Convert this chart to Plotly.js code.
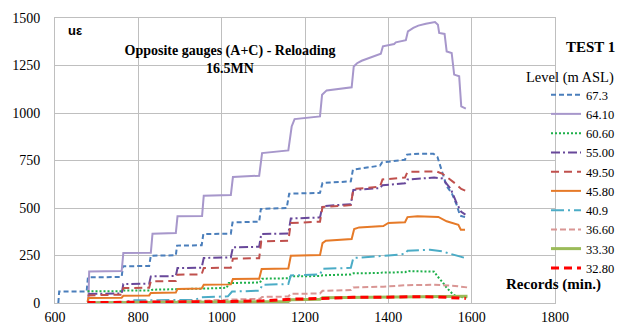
<!DOCTYPE html>
<html>
<head>
<meta charset="utf-8">
<script src="https://cdn.plot.ly/plotly-3.0.1.min.js"></script>
<style>html,body{margin:0;padding:0;background:#fff;}#chart{width:619px;height:326px;}</style>
</head>
<body>
<div id="chart"></div>
<script>
// ---- data ----
const seriesNames = ["67.3","64.10","60.60","55.00","49.50","45.80","40.9","36.60","33.30","32.80"];

const t_673 = [608,610,676,679,760,763,826,830,890,893,952,956,1022,1026,1090,1094,1156,1162,1236,1242,1310,1315,1380,1385,1440,1445,1475,1508,1518,1524,1540,1552,1564,1572,1584];
const v_673 = [0,61,61,135,137,193,195,249,251,302,304,363,365,424,428,495,500,575,580,632,640,702,723,740,754,781,786,786,768,728,614,579,517,460,452];

const t_6410 = [680,682,760,764,830,834,890,894,953,957,1022,1027,1090,1097,1160,1168,1175,1236,1241,1252,1312,1317,1325,1336,1382,1387,1414,1418,1442,1447,1460,1472,1490,1508,1512,1519,1522,1535,1540,1552,1558,1570,1575,1586];
const v_6410 = [0,166,168,263,265,365,368,456,458,565,568,663,670,789,803,929,968,982,1096,1119,1135,1245,1262,1275,1312,1351,1363,1372,1383,1430,1448,1460,1470,1477,1479,1465,1421,1416,1324,1316,1202,1193,1035,1023];

const t_6060 = [678,760,764,830,834,955,960,1012,1017,1092,1097,1160,1166,1236,1242,1310,1316,1380,1386,1440,1446,1510,1518,1530,1540,1556,1566,1590];
const v_6060 = [62,62,66,66,70,72,76,80,105,108,128,130,140,142,146,150,156,158,160,162,168,165,140,110,80,44,32,30];

const t_5500 = [680,760,764,826,830,890,894,952,957,1022,1027,1090,1095,1160,1166,1236,1242,1310,1316,1380,1386,1440,1446,1510,1530,1550,1565,1575,1585];
const v_5500 = [48,50,100,102,140,142,184,186,237,240,293,296,363,366,445,450,510,520,595,605,620,630,650,660,655,600,520,480,465];

const t_4950 = [678,760,764,826,830,890,894,952,957,1022,1027,1090,1095,1160,1166,1236,1242,1310,1316,1380,1386,1440,1446,1515,1530,1545,1560,1575,1586];
const v_4950 = [40,44,79,80,114,116,149,151,184,186,233,236,324,328,421,428,505,515,600,612,650,660,690,693,680,655,630,600,590];

const t_4580 = [678,680,760,764,826,830,890,894,952,957,1022,1027,1090,1096,1160,1166,1236,1242,1250,1312,1318,1330,1388,1400,1440,1446,1470,1520,1540,1568,1574,1584];
const v_4580 = [5,26,28,38,40,53,55,74,76,96,98,126,128,179,182,249,252,315,328,337,389,398,405,421,425,452,456,453,430,412,386,386];

const t_409 = [678,760,790,935,952,1015,1025,1092,1097,1160,1166,1236,1242,1310,1316,1388,1400,1440,1446,1500,1530,1550,1570,1588];
const v_409 = [2,5,14,16,30,35,60,65,96,100,145,150,180,185,237,245,250,258,275,280,272,258,248,235];

const t_3660 = [678,760,830,955,1025,1092,1097,1160,1166,1236,1242,1310,1316,1388,1446,1510,1560,1590];
const v_3660 = [3,5,8,12,18,22,32,34,48,50,64,68,82,86,94,96,90,82];

const t_3330 = [678,1100,1160,1166,1236,1242,1400,1520,1590];
const v_3330 = [0,5,8,17,20,28,32,35,35];

const t_3280 = [678,760,900,1025,1100,1166,1240,1316,1380,1450,1520,1560,1586];
const v_3280 = [2,3,5,8,12,20,24,30,30,33,32,28,24];

const xTicks = [600,800,1000,1200,1400,1600,1800];
const yTicks = [0,250,500,750,1000,1250,1500];

// ---- styles ----
const serif = "Liberation Serif, Times New Roman, serif";
const styles = [
  {color:"#4A7EBB", dash:"5px,3px", width:2},
  {color:"#A797CB", dash:"solid", width:2},
  {color:"#1DB04A", dash:"2px,2px", width:2},
  {color:"#68489A", dash:"9px,3px,2px,3px", width:2},
  {color:"#C0504D", dash:"8px,5px", width:2},
  {color:"#E67A28", dash:"solid", width:2},
  {color:"#4BACC6", dash:"13px,4px,2px,4px", width:2},
  {color:"#D99694", dash:"6px,3px", width:2},
  {color:"#9BBB59", dash:"solid", width:3},
  {color:"#FF0000", dash:"8px,5px", width:3}
];
const xs = [t_673,t_6410,t_6060,t_5500,t_4950,t_4580,t_409,t_3660,t_3330,t_3280];
const ys = [v_673,v_6410,v_6060,v_5500,v_4950,v_4580,v_409,v_3660,v_3330,v_3280];

const traces = seriesNames.map((n,i)=>({
  type:"scatter", mode:"lines", name:n, x:xs[i], y:ys[i],
  line:{color:styles[i].color, dash:styles[i].dash, width:styles[i].width, shape:"linear"},
  hoverinfo:"skip"
}));

const axisCommon = {
  showgrid:true, gridcolor:"#BFBFBF", gridwidth:1,
  showline:true, linecolor:"#BFBFBF", linewidth:1, mirror:true,
  zeroline:false, ticks:"outside", tickcolor:"rgba(0,0,0,0)",
  tickfont:{family:serif, size:14, color:"#000"}
};

// plot area: x 55..555 px, y 18..303 px
const PX = px => (px-55)/500;
const PY = py => (303-py)/285;

const layout = {
  width:619, height:326,
  margin:{l:55, r:64, t:18, b:23, pad:0, autoexpand:false},
  paper_bgcolor:"#fff", plot_bgcolor:"#fff",
  showlegend:true,
  title:{
    text:"<b>Opposite gauges (A+C) - Reloading<br>16.5MN</b>",
    font:{family:serif, size:14, color:"#000"},
    x:230/619, xref:"container", xanchor:"center",
    y:1-55/326, yref:"container", yanchor:"top"
  },
  xaxis:Object.assign({}, axisCommon, {range:[600,1800], tickvals:xTicks, ticktext:xTicks.map(String), ticklen:1}),
  yaxis:Object.assign({}, axisCommon, {range:[0,1500], tickvals:yTicks, ticktext:yTicks.map(String), ticklen:11}),
  legend:{
    xref:"container", yref:"container",
    x:546/619, xanchor:"left", y:1-80/326, yanchor:"top",
    maxheight:240,
    bgcolor:"rgba(0,0,0,0)", borderwidth:0,
    font:{family:serif, size:12.5, color:"#000"},
    itemwidth:30, tracegroupgap:0
  },
  annotations:[
    {text:"<b>TEST 1</b>", xref:"paper", yref:"paper", x:PX(590), y:PY(47),
     showarrow:false, font:{family:serif, size:15, color:"#000"}, xanchor:"center", yanchor:"middle"},
    {text:"Level (m ASL)", xref:"paper", yref:"paper", x:PX(570), y:PY(77),
     showarrow:false, font:{family:serif, size:14.5, color:"#000"}, xanchor:"center", yanchor:"middle"},
    {text:"<b>Records (min.)</b>", xref:"paper", yref:"paper", x:PX(553), y:PY(284),
     showarrow:false, font:{family:serif, size:15, color:"#000"}, xanchor:"center", yanchor:"middle"},
    {text:"<b>uε</b>", xref:"paper", yref:"paper", x:PX(75), y:PY(30),
     showarrow:false, font:{family:"Liberation Sans, Arial, sans-serif", size:13, color:"#000"}, xanchor:"center", yanchor:"middle"}
  ]
};

Plotly.newPlot("chart", traces, layout, {staticPlot:true, displayModeBar:false});
</script>
</body>
</html>
